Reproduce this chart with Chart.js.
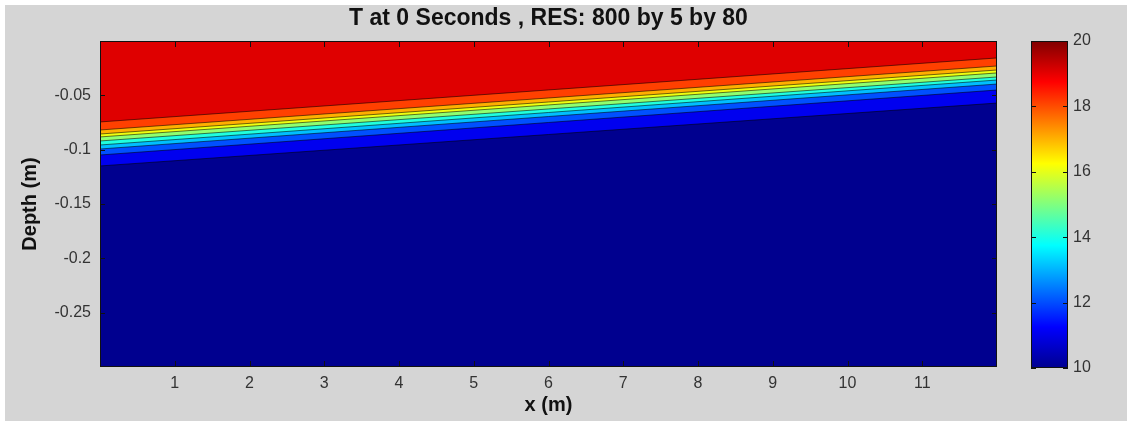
<!DOCTYPE html>
<html>
<head>
<meta charset="utf-8">
<script src="https://cdn.jsdelivr.net/npm/chart.js@4.4.0/dist/chart.umd.min.js"></script>
<style>
    html, body { margin: 0; padding: 0; background: #fff; }
    #fig { position: absolute; left: 5px; top: 5px; width: 1122px; height: 416px; background: #d5d5d5; }
    #main { position: absolute; left: 0; top: 0; }
    #cbar { position: absolute; left: 1000px; top: 0; }
</style>
</head>
<body>
<div id="fig">
    <canvas id="main" width="1122" height="416"></canvas>
    <canvas id="cbar" width="122" height="416"></canvas>
</div>
<script>
// niveis das curvas de contorno (T) e profundidade onde cada curva toca x=0 e x=12
const niveis  = [11, 12, 13, 14, 15, 16, 17, 18, 19];
const profEsq = [-0.1150, -0.1049, -0.0994, -0.0957, -0.0920, -0.0883, -0.0856, -0.0819, -0.0745];
const profDir = [-0.0571, -0.0451, -0.0396, -0.0359, -0.0331, -0.0294, -0.0267, -0.0230, -0.0156];
const xBordas = [0, 12];
const yBordas = [-0.3, 0];

const xTicks  = [1, 2, 3, 4, 5, 6, 7, 8, 9, 10, 11];
const yTicks  = [-0.05, -0.1, -0.15, -0.2, -0.25];
const cbTicks = [10, 12, 14, 16, 18, 20];
const tMin = 10;
const tMax = 20;

const titulo = 'T at 0 Seconds , RES: 800 by 5 by 80';
const fonte = '"Liberation Sans", Arial, sans-serif';

// jet do matlab (64 cores)
const jet = (t) => {
    const c = v => Math.round(255 * Math.min(1, Math.max(0, v)));
    return `rgb(${c(1.5 - Math.abs(4 * t - 3))},${c(1.5 - Math.abs(4 * t - 2))},${c(1.5 - Math.abs(4 * t - 1))})`;
}
const corNivel = (nivel) => {
    let idx = Math.min(64, Math.floor((nivel - tMin) / (tMax - tMin) * 64) + 1);
    return jet(idx / 64);
}

const fixarTicks = (lista) => (scale) => { scale.ticks = lista.map(v => ({ value: v })); };

// fundo da area (faixa 10-11), borda e marcas de tick pra dentro
const moldura = {
    id: 'moldura',
    beforeDraw: (chart, args, opts) => {
        if (!opts.fundo) return;
        const a = chart.chartArea;
        chart.ctx.save();
        chart.ctx.fillStyle = opts.fundo;
        chart.ctx.fillRect(a.left, a.top, a.right - a.left, a.bottom - a.top);
        chart.ctx.restore();
    },
    afterDatasetsDraw: (chart) => {
        const ctx = chart.ctx;
        const a = chart.chartArea;
        ctx.save();
        ctx.strokeStyle = '#111';
        ctx.lineWidth = 1;
        ctx.beginPath();
        Object.values(chart.scales).forEach(s => {
            if (!s.options.display) return;
            s.ticks.forEach(t => {
                const p = Math.round(s.getPixelForValue(t.value)) + 0.5;
                if (s.isHorizontal()) {
                    ctx.moveTo(p, a.top); ctx.lineTo(p, a.top + 6);
                    ctx.moveTo(p, a.bottom); ctx.lineTo(p, a.bottom - 6);
                } else {
                    ctx.moveTo(a.left, p); ctx.lineTo(a.left + 5, p);
                    ctx.moveTo(a.right, p); ctx.lineTo(a.right - 5, p);
                }
            });
        });
        ctx.stroke();
        ctx.strokeRect(Math.round(a.left) + 0.5, Math.round(a.top) + 0.5,
            Math.round(a.right - a.left) - 1, Math.round(a.bottom - a.top) - 1);
        ctx.restore();
    }
};

const datasets = niveis.map((nivel, i) => ({
    label: `T = ${nivel}`,
    data: [
        { x: xBordas[0], y: profEsq[i] },
        { x: xBordas[1], y: profDir[i] }
    ],
    fill: 'end',
    backgroundColor: corNivel(nivel),
    borderColor: 'rgba(0,0,0,0.55)',
    borderWidth: 1,
    pointRadius: 0,
    tension: 0,
    order: tMax - nivel
}));

new Chart(document.getElementById('main'), {
    type: 'line',
    data: { datasets: datasets },
    plugins: [moldura],
    options: {
        responsive: false,
        animation: false,
        layout: { padding: { left: 0, right: 130, top: 0, bottom: 0 } },
        plugins: {
            legend: { display: false },
            tooltip: { enabled: false },
            moldura: { fundo: corNivel(tMin) },
            title: {
                display: true,
                fullSize: false,
                text: titulo,
                color: '#111',
                font: { family: fonte, size: 23, weight: 'bold' },
                padding: { top: 0, bottom: 8.4 }
            }
        },
        scales: {
            x: {
                type: 'linear',
                min: xBordas[0],
                max: xBordas[1],
                afterBuildTicks: fixarTicks(xTicks),
                afterFit: s => { s.height = 54; },
                grid: { display: false, drawTicks: false },
                border: { display: false },
                ticks: { color: '#333', font: { family: fonte, size: 16 }, padding: 7, autoSkip: false, maxRotation: 0 },
                title: { display: true, text: 'x (m)', color: '#111', font: { family: fonte, size: 20, weight: 'bold' }, padding: { top: 0, bottom: 4 } }
            },
            y: {
                type: 'linear',
                min: yBordas[0],
                max: yBordas[1],
                afterBuildTicks: fixarTicks(yTicks),
                afterFit: s => { s.width = 95; },
                grid: { display: false, drawTicks: false },
                border: { display: false },
                ticks: { color: '#333', font: { family: fonte, size: 16 }, padding: 9, callback: v => String(v) },
                title: { display: true, text: 'Depth (m)', color: '#111', font: { family: fonte, size: 20, weight: 'bold' }, padding: { top: 13, bottom: 0 } }
            }
        }
    }
});

// barra de cores
new Chart(document.getElementById('cbar'), {
    type: 'bar',
    data: {
        labels: [''],
        datasets: [{
            data: [[tMin, tMax]],
            barPercentage: 1,
            categoryPercentage: 1,
            borderWidth: 0,
            backgroundColor: (c) => {
                const a = c.chart.chartArea;
                if (!a) return null;
                const g = c.chart.ctx.createLinearGradient(0, a.bottom, 0, a.top);
                g.addColorStop(0, 'rgb(0,0,143)');
                g.addColorStop(0.125, 'rgb(0,0,255)');
                g.addColorStop(0.375, 'rgb(0,255,255)');
                g.addColorStop(0.625, 'rgb(255,255,0)');
                g.addColorStop(0.875, 'rgb(255,0,0)');
                g.addColorStop(1, 'rgb(128,0,0)');
                return g;
            }
        }]
    },
    plugins: [moldura],
    options: {
        responsive: false,
        animation: false,
        layout: { padding: { left: 26, right: 0, top: 36, bottom: 53 } },
        plugins: {
            legend: { display: false },
            tooltip: { enabled: false }
        },
        scales: {
            x: { display: false },
            y: {
                position: 'right',
                min: tMin,
                max: tMax,
                afterBuildTicks: fixarTicks(cbTicks),
                afterFit: s => { s.width = 59; },
                grid: { display: false, drawTicks: false },
                border: { display: false },
                ticks: { color: '#333', font: { family: fonte, size: 16 }, padding: 5 }
            }
        }
    }
});
</script>
</body>
</html>
